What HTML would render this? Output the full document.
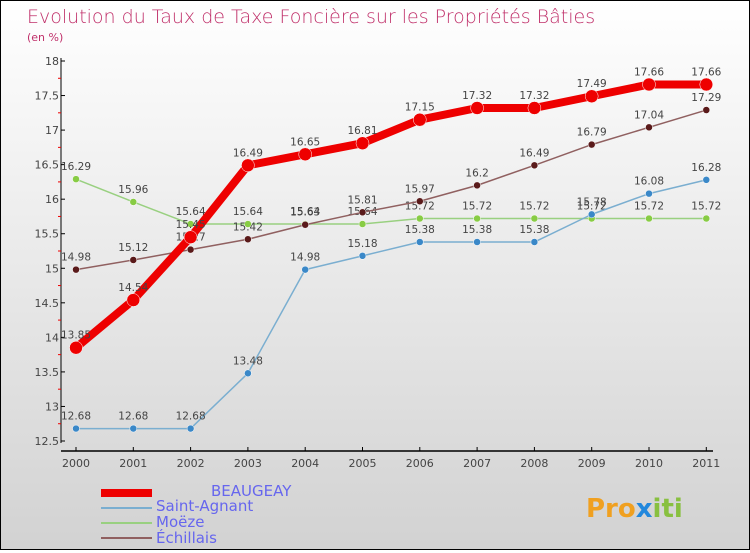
<!DOCTYPE html>
<html><head><meta charset="utf-8"><style>
body{margin:0}
#c{width:748px;height:548px;border:1px solid #000;background:linear-gradient(#fff,#d2d2d2);position:relative;font-family:"DejaVu Sans","Liberation Sans",sans-serif}
</style></head><body>
<div id="c">
<svg id="s" width="748" height="548">
<text x="26" y="22" font-size="19" fill="#c0306a" style="font-family:'DejaVu Sans',sans-serif;font-weight:200">Evolution du Taux de Taxe Foncière sur les Propriétés Bâties</text>
<text x="26" y="40" font-size="11" fill="#c0306a">(en %)</text>
<g id="g"></g>
<text x="210" y="495" font-size="15" fill="#6666ee">BEAUGEAY</text>
<text x="155" y="510" font-size="15" fill="#6666ee">Saint-Agnant</text>
<text x="155" y="526" font-size="15" fill="#6666ee">Moëze</text>
<text x="155" y="542" font-size="15" fill="#6666ee">Échillais</text>
<rect x="100" y="488" width="51" height="8" fill="#e00"/>
<line x1="100" y1="507" x2="151" y2="507" stroke="#7aaed0" stroke-width="2"/>
<line x1="100" y1="522" x2="151" y2="522" stroke="#99d080" stroke-width="2"/>
<line x1="100" y1="537" x2="151" y2="537" stroke="#906060" stroke-width="2"/>
<text x="585" y="516" font-size="26" font-weight="bold" fill="#f0a020">Pro<tspan fill="#2288dd">x</tspan><tspan fill="#88c040">iti</tspan></text>
</svg></div>
<script>
const years=["2000","2001","2002","2003","2004","2005","2006","2007","2008","2009","2010","2011"];
const yTicks=[12.5,13,13.5,14,14.5,15,15.5,16,16.5,17,17.5,18];
const beaugeay=[13.85,14.54,15.45,16.49,16.65,16.81,17.15,17.32,17.32,17.49,17.66,17.66];
const saintAgnant=[12.68,12.68,12.68,13.48,14.98,15.18,15.38,15.38,15.38,15.78,16.08,16.28];
const moeze=[16.29,15.96,15.64,15.64,15.64,15.64,15.72,15.72,15.72,15.72,15.72,15.72];
const echillais=[14.98,15.12,15.27,15.42,15.63,15.81,15.97,16.2,16.49,16.79,17.04,17.29];
const NS="http://www.w3.org/2000/svg",g=document.getElementById('g');
const X=i=>75+i*57.3, Y=v=>60+(18-v)*380/5.5;
function mk(t,a){const e=document.createElementNS(NS,t);for(const k in a)e.setAttribute(k,a[k]);g.appendChild(e);return e;}
let ax=mk('line',{x1:60,y1:57,x2:60,y2:442,stroke:'#000'});


let xa=mk('line',{x1:60,y1:450,x2:712,y2:450,stroke:'#000',"stroke-width":1.5});


yTicks.forEach((v,i)=>{mk('line',{x1:60,y1:Y(v),x2:64,y2:Y(v),stroke:'#000'});
 if(i<yTicks.length-1)mk('line',{x1:57,y1:Y(v+0.25),x2:60,y2:Y(v+0.25),stroke:'#e00'});
 const t=mk('text',{x:58,y:Y(v)+4,"font-size":11,fill:'#444',"text-anchor":'end'});t.textContent=String(v);
 
 });
years.forEach((y,i)=>{mk('line',{x1:X(i),y1:446,x2:X(i),y2:450,stroke:'#000'});
 const t=mk('text',{x:X(i),y:466,"font-size":11,fill:'#444',"text-anchor":'middle'});t.textContent=y;
 
 });
function series(d,col,w,r,fill,name){
 const p=mk('polyline',{points:d.map((v,i)=>X(i)+','+Y(v)).join(' '),fill:'none',stroke:col,"stroke-width":w,"stroke-linejoin":'round'});
 
 
 d.forEach((v,i)=>{const c=mk('circle',{cx:X(i),cy:Y(v),r:r,fill:fill,stroke:'#fff',"stroke-width":0.5});
  
  
  const t=mk('text',{x:X(i),y:Y(v)-9,"font-size":10.5,fill:'#444',"text-anchor":'middle'});t.textContent=String(v);
  
  });
}
series(moeze,'#99d080',1.5,3.5,'#88cc44','moeze');
series(saintAgnant,'#7aaed0',1.5,3.5,'#3a88c8','saint-agnant');
series(echillais,'#906060',1.5,3.5,'#5a1a1a','echillais');
series(beaugeay,'#ee0000',8,6.5,'#ee0000','beaugeay');
</script></body></html>
